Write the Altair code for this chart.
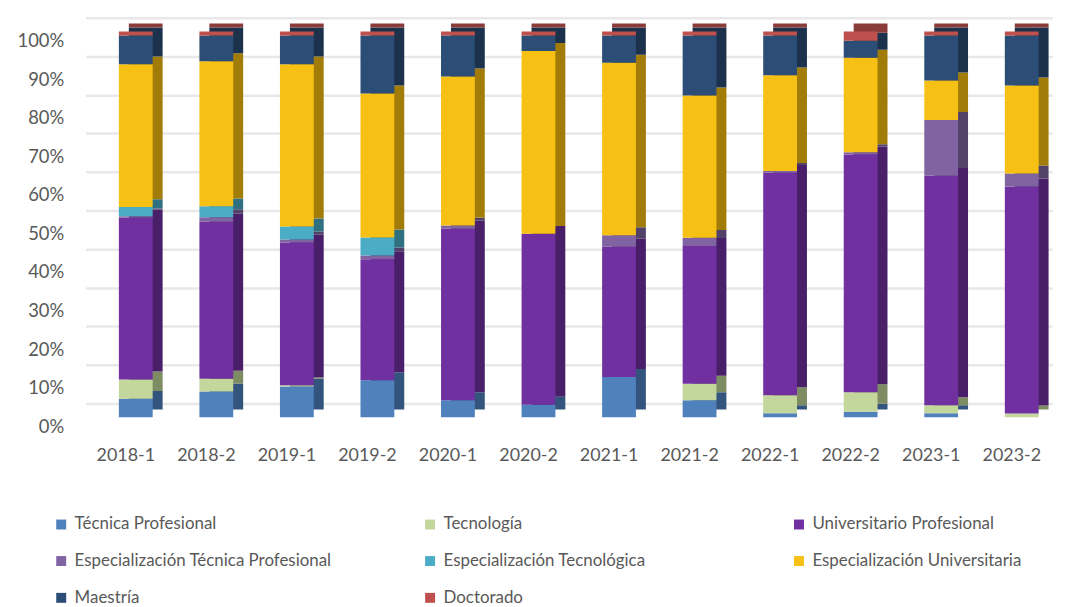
import altair as alt
import pandas as pd

periods = ["2018-1", "2018-2", "2019-1", "2019-2", "2020-1", "2020-2",
           "2021-1", "2021-2", "2022-1", "2022-2", "2023-1", "2023-2"]

series = ["Técnica Profesional", "Tecnología", "Universitario Profesional",
          "Especialización Técnica Profesional", "Especialización Tecnológica",
          "Especialización Universitaria", "Maestría", "Doctorado"]

colors = ["#4f81bd", "#c3d69b", "#7030a0", "#8064a2", "#4bacc6", "#f7c014", "#2c4d75", "#c0504d"]
dark_colors = ["#33557d", "#7d8c62", "#481f68", "#524169", "#2f7081", "#a27c08", "#1c324c", "#8a3c3a"]

# legend reading order (Vega fills legend columns top to bottom)
legend_order = [0, 3, 6, 1, 4, 7, 2, 5]

tecnica_profesional = [4.8, 6.7, 8.0, 9.7, 4.5, 3.3, 10.5, 4.5, 1.1, 1.5, 1.1, 0.0]
tecnologia = [5.0, 3.3, 0.3, 0.0, 0.0, 0.0, 0.0, 4.3, 4.7, 5.1, 2.1, 1.0]
universitario_profesional = [42.0, 40.7, 37.0, 31.7, 45.0, 44.7, 33.8, 36.0, 58.4, 62.5, 59.9, 59.5]
esp_tecnica_profesional = [0.3, 1.2, 0.8, 1.0, 0.8, 0.0, 3.0, 2.1, 0.5, 0.6, 14.6, 3.4]
esp_tecnologica = [2.4, 2.8, 3.4, 4.7, 0.0, 0.0, 0.0, 0.0, 0.0, 0.0, 0.0, 0.0]
esp_universitaria = [37.0, 37.6, 42.0, 37.7, 39.1, 47.8, 44.8, 37.2, 25.1, 24.8, 10.3, 23.1]
maestria = [7.5, 6.7, 7.5, 15.2, 10.8, 4.1, 7.1, 15.7, 10.5, 4.5, 11.8, 13.1]
doctorado = [1.0, 1.0, 1.0, 1.0, 1.0, 1.0, 1.0, 1.0, 1.0, 2.4, 1.0, 1.0]

all_values = [tecnica_profesional, tecnologia, universitario_profesional,
              esp_tecnica_profesional, esp_tecnologica, esp_universitaria,
              maestria, doctorado]

rows = []
for i, p in enumerate(periods):
    for j, s in enumerate(series):
        rows.append({"Periodo": p, "Nivel": s, "Valor": all_values[j][i],
                     "orden": j, "oscuro": dark_colors[j]})
df = pd.DataFrame(rows)

FONT = "Lato"
TXT = "#595959"

x_enc = alt.X("Periodo:N", sort=periods,
              scale=alt.Scale(paddingInner=0.5, paddingOuter=0.25),
              axis=alt.Axis(title=None, labelAngle=0, ticks=False, domain=False,
                            labelPadding=29, labelFontSize=18, labelColor=TXT,
                            labelFont=FONT, grid=False))

y_axis = alt.Axis(title=None, format=".0%", values=[i / 10 for i in range(11)],
                  ticks=False, domain=False, labelFontSize=18.5, labelColor=TXT,
                  labelFont=FONT, gridColor="#e8e8e8", gridWidth=2.5,
                  tickOffset=-14, labelOffset=23, labelPadding=22)

y_enc = alt.Y("Valor:Q", stack="normalize", scale=alt.Scale(domain=[0, 1]), axis=y_axis)

back = alt.Chart(df).mark_bar(width=34, xOffset=20, yOffset=-8, y2Offset=-8).encode(
    x=x_enc,
    y=y_enc,
    color=alt.Color("oscuro:N", scale=None, legend=None),
    order=alt.Order("orden:Q", sort="ascending"),
)

front = alt.Chart(df).mark_bar(width=34, xOffset=10).encode(
    x=x_enc,
    y=y_enc,
    color=alt.Color("Nivel:N",
                    scale=alt.Scale(domain=[series[k] for k in legend_order],
                                    range=[colors[k] for k in legend_order]),
                    legend=alt.Legend(title=None, orient="none", legendX=-33, legendY=487,
                                      columns=3, gridAlign="all", columnPadding=90,
                                      rowPadding=19, symbolType="square", symbolSize=100,
                                      symbolStrokeWidth=0, labelFontSize=17, labelLimit=0,
                                      labelFont=FONT, labelColor=TXT, labelOffset=5,
                                      padding=0)),
    order=alt.Order("orden:Q", sort="ascending"),
)

chart = alt.layer(back, front).resolve_scale(color="independent").properties(
    width=972, height=388,
    padding={"left": 78, "top": 22, "right": 10, "bottom": 189},
    autosize="none",
).configure_view(stroke=None)

chart.save("out.html", embed_options={"renderer": "svg", "actions": False})
